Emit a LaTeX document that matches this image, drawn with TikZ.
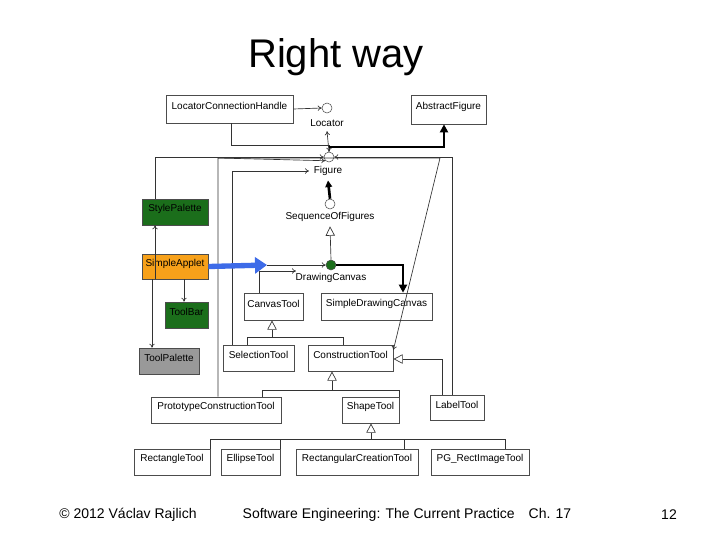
\documentclass[tikz,border=0pt]{standalone}
\usepackage{fontspec}
\setmainfont{Liberation Sans}
\usetikzlibrary{arrows.meta,fit}
\definecolor{dgreen}{HTML}{1B6E1B}
\definecolor{orng}{HTML}{F7A11A}
\definecolor{gry}{HTML}{999999}
\definecolor{blu}{HTML}{3D6BE8}
\begin{document}
\begin{tikzpicture}[x=0.75pt,y=-0.75pt,
  box/.style={draw=black!70,fill=white,inner sep=0pt,line width=0.5pt},
  circ/.style={draw=black!70,fill=white,circle,minimum size=7.5pt,inner sep=0pt},
  lbl/.style={font=\fontsize{7.5}{9}\selectfont},
  ln/.style={draw=black!80,line width=0.5pt},
  dep/.style={ln,-{To[length=3pt,width=4pt]}},
  gen/.style={ln,-{Triangle[open,length=7pt,width=7pt,fill=white]}},
  bold/.style={draw=black,line width=2pt,-{Triangle[length=6pt,width=6pt]}}]
\useasboundingbox (0,0) rectangle (720,540);
\node[font=\fontsize{30}{34}\selectfont] (title) at (336,57) {Right way};
% boxes
\newcommand{\bx}[5][white]{\node[box,fill=#1,fit={#3},label={[lbl,yshift=2pt]center:#4}] (#2) {};}
\bx{lch}{(166,95)(293,123)}{LocatorConnectionHandle}{}
\bx{af}{(411,95)(486,124)}{AbstractFigure}{}
\bx[dgreen]{sp}{(142,199)(208,225)}{StylePalette}{}
\bx[orng]{sa}{(142,254)(208,279)}{SimpleApplet}{}
\bx{ct}{(244,293)(303,320)}{CanvasTool}{}
\bx{sdc}{(321,293)(432,320)}{SimpleDrawingCanvas}{}
\bx[dgreen]{tb}{(165,302)(208,328)}{ToolBar}{}
\bx[gry]{tp}{(139,348)(199,374)}{ToolPalette}{}
\bx{st}{(223,345)(294,371)}{SelectionTool}{}
\bx{cnt}{(308,345)(393,371)}{ConstructionTool}{}
\bx{pct}{(151,397)(281,423)}{PrototypeConstructionTool}{}
\bx{sht}{(342,397)(399,423)}{ShapeTool}{}
\bx{lt}{(430,395)(484,420)}{LabelTool}{}
\bx{rt}{(134,449)(210,475)}{RectangleTool}{}
\bx{et}{(221,449)(280,475)}{EllipseTool}{}
\bx{rct}{(296,449)(418,475)}{RectangularCreationTool}{}
\bx{pgt}{(431,449)(529,475)}{PG\_RectImageTool}{}
% interfaces
\node[circ] (loc) at (327,108) {};
\node[lbl] (locl) at (327,123) {Locator};
\node[circ] (fig) at (329,157) {};
\node[lbl] (figl) at (328,171) {Figure};
\node[circ] (sof) at (330,204) {};
\node[lbl] (sofl) at (330,217) {SequenceOfFigures};
\node[circ,fill=dgreen] (dc) at (331,265) {};
\node[lbl] (dcl) at (331,278) {DrawingCanvas};
% connectors
\draw[dep] (lch.east) -- (loc.west);
\draw[dep] (fig.north) -- (locl.south);
\draw[dep] (lch.south -| 231,0) |- (329,145) -- (fig.north);
\draw[bold] (329,147) -| (af.south -| 444,0);
\draw[dep] (sp.north -| 155,0) |- (fig.west);
\draw[dep] (lt.north -| 452,0) |- (fig.east);
\draw[dep] (pct.north -| 218,0) |- (440,158) -- (cnt.east |- 0,350);
\draw[dep] (218,158) -- (fig.south west);
\draw[dep] (st.north -| 232,0) |- (figl.west);
\draw[bold,-{Triangle[length=5pt,width=5pt]}] (sof.north) -- (figl.south);
\draw[gen] (dc.north) -- (sofl.south);
\draw[dep] (sa.south -| 155,0) -- (sp.south -| 155,0);
\draw[dep] (sa.south -| 152,0) -- (tp.north -| 152,0);
\draw[dep] (sa.south -| 184,0) -- (tb.north -| 184,0);
\draw[-{Triangle[length=9pt,width=12pt]},blu,line width=4pt] (sa.east) -- (267,265);
\draw[dep] (267,265) -- (dc.west);
\draw[dep] (ct.north -| 259,0) |- (296,271);
\draw[bold] (dc.east) -| (sdc.north -| 403,0);
% generalizations
\draw[ln] (st.north -| 247,0) |- (343,337) -- (cnt.north -| 343,0);
\draw[gen] (272,337) -- (ct.south -| 272,0);
\draw[gen] (lt.north -| 442,0) |- (cnt.east |- 0,359);
\draw[ln] (pct.north -| 262,0) |- (399,390) -- (sht.north -| 399,0);
\draw[gen] (332,390) -- (cnt.south -| 332,0);
\draw[ln] (rt.north -| 210,0) |- (505,439) -- (pgt.north -| 505,0);
\draw[ln] (et.north -| 280,0) -- (280,439);
\draw[ln] (rct.north -| 404,0) -- (404,439);
\draw[gen] (371,439) -- (sht.south -| 371,0);
% footer
\node[font=\fontsize{10.5}{12}\selectfont] (f1) at (128,515) {© 2012 Václav Rajlich};
\node[font=\fontsize{10.5}{12}\selectfont] (f2) at (407,515) {Software Engineering: The Current Practice\quad Ch. 17};
\node[font=\fontsize{10.5}{12}\selectfont] (f3) at (669,515) {12};
\end{tikzpicture}
\end{document}
